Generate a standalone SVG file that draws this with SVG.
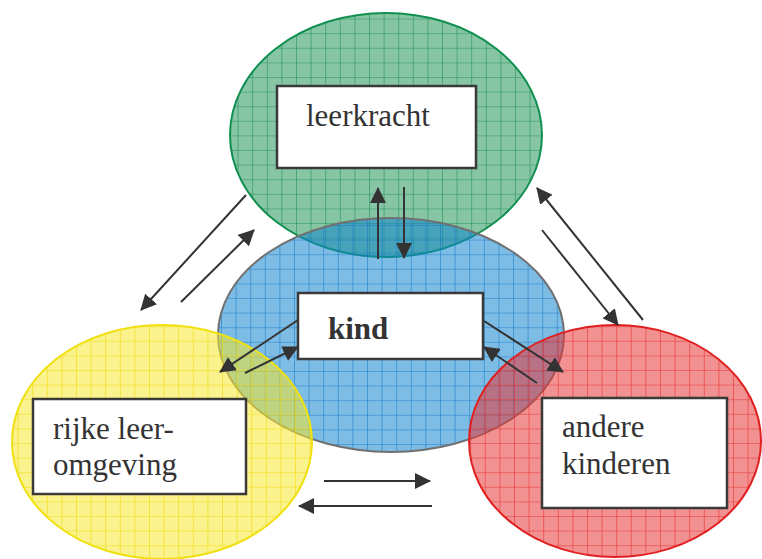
<svg xmlns="http://www.w3.org/2000/svg" width="762" height="559" viewBox="0 0 762 559">
<style>
.box{fill:#fff;stroke:#3a3a3a;stroke-width:2.5}
.lbl{font-family:"Liberation Serif","Times New Roman",serif;font-size:31px;fill:#333}
.arr{stroke:#333;stroke-width:2;fill:none;marker-end:url(#ah)}
</style>
<defs>
<marker id="ah" viewBox="0 0 16 16" refX="15" refY="8" markerWidth="16" markerHeight="16" markerUnits="userSpaceOnUse" orient="auto">
<path d="M0,0 L16,8 L0,16 z" fill="#333"/>
</marker>
<pattern id="gG" width="14.6" height="14.6" patternUnits="userSpaceOnUse" x="4" y="4">
<path d="M0,0 H14.6 M0,0 V14.6" stroke="rgb(25,140,80)" stroke-width="1.2" stroke-opacity="0.9" fill="none"/>
</pattern>
<pattern id="gB" width="14.6" height="14.6" patternUnits="userSpaceOnUse" x="2" y="6">
<path d="M0,0 H14.6 M0,0 V14.6" stroke="rgb(20,120,200)" stroke-width="1.2" stroke-opacity="0.9" fill="none"/>
</pattern>
<pattern id="gY" width="14.6" height="14.6" patternUnits="userSpaceOnUse" x="3" y="5">
<path d="M0,0 H14.6 M0,0 V14.6" stroke="rgb(240,215,0)" stroke-width="1.2" stroke-opacity="0.9" fill="none"/>
</pattern>
<pattern id="gR" width="14.6" height="14.6" patternUnits="userSpaceOnUse" x="3" y="5">
<path d="M0,0 H14.6 M0,0 V14.6" stroke="rgb(230,40,40)" stroke-width="1.2" stroke-opacity="0.9" fill="none"/>
</pattern>
</defs>

<g id="ellipses">
<g id="circle-leerkracht">
<ellipse cx="386" cy="135" rx="156" ry="122" fill="rgb(37,151,91)" fill-opacity="0.55"/>
<ellipse cx="386" cy="135" rx="156" ry="122" fill="url(#gG)" stroke="#109050" stroke-width="2"/>
</g>
<g id="circle-kind">
<ellipse cx="391" cy="335" rx="173" ry="117" fill="rgb(19,133,206)" fill-opacity="0.55"/>
<ellipse cx="391" cy="335" rx="173" ry="117" fill="url(#gB)" stroke="#707070" stroke-width="2"/>
</g>
<g id="circle-omgeving">
<ellipse cx="162" cy="442" rx="150" ry="117" fill="rgb(246,231,46)" fill-opacity="0.55"/>
<ellipse cx="162" cy="442" rx="150" ry="117" fill="url(#gY)" stroke="#f0e010" stroke-width="2"/>
</g>
<g id="circle-kinderen">
<ellipse cx="615" cy="441" rx="146" ry="116" fill="rgb(231,55,55)" fill-opacity="0.55"/>
<ellipse cx="615" cy="441" rx="146" ry="116" fill="url(#gR)" stroke="#e02020" stroke-width="2"/>
</g>
</g>

<g id="node-leerkracht">
<rect class="box" x="277" y="86" width="199" height="82"/>
<text class="lbl" x="306" y="126">leerkracht</text>
</g>
<g id="node-kind">
<rect class="box" x="298" y="293" width="185" height="66"/>
<text class="lbl" x="328" y="339" font-weight="bold" font-size="36">kind</text>
</g>
<g id="node-omgeving">
<rect class="box" x="33" y="399" width="213" height="95"/>
<text class="lbl" x="53" y="439">rijke leer-</text>
<text class="lbl" x="53" y="475">omgeving</text>
</g>
<g id="node-kinderen">
<rect class="box" x="542" y="398" width="185" height="110"/>
<text class="lbl" x="562" y="437">andere</text>
<text class="lbl" x="562" y="474">kinderen</text>
</g>

<g id="connectors">
<path class="arr" d="M378,259 L378,188"/>
<path class="arr" d="M404,187 L404,258"/>
<path class="arr" d="M246,195 L141,310"/>
<path class="arr" d="M181,302 L254,230"/>
<path class="arr" d="M643,320 L537,188"/>
<path class="arr" d="M542,230 L618,325"/>
<path class="arr" d="M298,320 L220,372"/>
<path class="arr" d="M245,373 L298,347"/>
<path class="arr" d="M484,321 L563,372"/>
<path class="arr" d="M537,383 L484,347"/>
<path class="arr" d="M324,481 L430,481"/>
<path class="arr" d="M432,506 L299,506"/>
</g>
</svg>
